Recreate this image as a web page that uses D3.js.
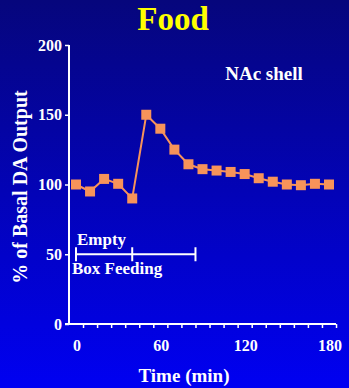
<!DOCTYPE html>
<html>
<head>
<meta charset="utf-8">
<script src="https://d3js.org/d3.v7.min.js"></script>
<style>
    html, body { margin: 0; padding: 0; background: #0000c0; }
    svg { display: block; }
    text { font-family: "Liberation Serif", "Times New Roman", serif; font-weight: bold; }
</style>
</head>
<body>
<svg width="349" height="388"></svg>
<script>
    const width = 349, height = 388;

    // dopamine output, % of basal, every 10 min
    const times = [0, 10, 20, 30, 40, 50, 60, 70, 80, 90, 100, 110, 120, 130, 140, 150, 160, 170, 180];
    const values = [100, 95, 104, 100.5, 90, 150, 140, 125, 114.5, 111, 110, 109, 107.5, 104.5, 102, 100, 99.5, 100.5, 100];
    const yTicks = [0, 50, 100, 150, 200];
    const xLabels = [0, 60, 120, 180];
    const xMinor = [5, 15, 25, 35, 45, 55, 65, 75, 85, 95, 105, 115, 125, 135, 145, 155, 165, 175, 185];
    // period bar: Empty Box, then Feeding
    const periods = [0, 40, 85];

    const svg = d3.select("svg");

    const defs = svg.append("defs");
    const grad = defs.append("linearGradient")
        .attr("id", "bg")
        .attr("x1", 0).attr("y1", 0).attr("x2", 0).attr("y2", 1);
    grad.append("stop").attr("offset", "0%").attr("stop-color", "#06067c");
    grad.append("stop").attr("offset", "100%").attr("stop-color", "#0000f2");

    svg.append("rect")
        .attr("width", width)
        .attr("height", height)
        .attr("fill", "url(#bg)");

    const x = d3.scaleLinear().domain([0, 180]).range([76, 329]);
    const y = d3.scaleLinear().domain([0, 200]).range([324, 45]);
    const axisX = 69;

    // title
    svg.append("text")
        .attr("x", 173)
        .attr("y", 30)
        .attr("text-anchor", "middle")
        .attr("font-size", 33)
        .attr("fill", "#ffff00")
        .text("Food");

    svg.append("text")
        .attr("x", 264)
        .attr("y", 80)
        .attr("text-anchor", "middle")
        .attr("font-size", 19)
        .attr("fill", "white")
        .text("NAc shell");

    // y axis
    const yAxis = svg.append("g")
        .attr("transform", `translate(${axisX},0)`)
        .call(d3.axisLeft(y).tickValues(yTicks).tickSize(4).tickPadding(3));
    yAxis.select(".domain").remove();
    yAxis.selectAll(".tick line").attr("stroke", "white").attr("stroke-width", 1.5);
    yAxis.selectAll(".tick text")
        .attr("fill", "white")
        .attr("font-size", 16)
        .attr("font-family", null);

    svg.append("line")
        .attr("x1", axisX).attr("x2", axisX)
        .attr("y1", y(200)).attr("y2", y(0))
        .attr("stroke", "white").attr("stroke-width", 2);

    // x axis
    const xAxis = svg.append("g")
        .attr("transform", `translate(0,${y(0)})`)
        .call(d3.axisBottom(x).tickValues(xMinor).tickSize(4).tickFormat(""));
    xAxis.select(".domain").remove();
    xAxis.selectAll(".tick line").attr("stroke", "white").attr("stroke-width", 1.5);

    svg.append("line")
        .attr("x1", axisX - 4).attr("x2", x(185))
        .attr("y1", y(0)).attr("y2", y(0))
        .attr("stroke", "white").attr("stroke-width", 2);

    svg.selectAll(".xlabel")
        .data(xLabels)
        .join("text")
        .attr("class", "xlabel")
        .attr("x", d => x(d) + 1)
        .attr("y", 351)
        .attr("text-anchor", "middle")
        .attr("font-size", 16)
        .attr("fill", "white")
        .text(d => d);

    svg.append("text")
        .attr("x", 184)
        .attr("y", 382)
        .attr("text-anchor", "middle")
        .attr("font-size", 19)
        .attr("fill", "white")
        .text("Time (min)");

    svg.append("text")
        .attr("transform", `translate(27,${187}) rotate(-90)`)
        .attr("text-anchor", "middle")
        .attr("font-size", 20)
        .attr("fill", "white")
        .text("% of Basal DA Output");

    // period bar
    const barY = y(50);
    svg.append("line")
        .attr("x1", x(periods[0])).attr("x2", x(periods[periods.length - 1]))
        .attr("y1", barY).attr("y2", barY)
        .attr("stroke", "white").attr("stroke-width", 2);
    svg.selectAll(".cap")
        .data(periods)
        .join("line")
        .attr("class", "cap")
        .attr("x1", d => x(d)).attr("x2", d => x(d))
        .attr("y1", barY - 7).attr("y2", barY + 7)
        .attr("stroke", "white").attr("stroke-width", 2);

    svg.append("text")
        .attr("x", x(periods[0]) + 1)
        .attr("y", barY - 9)
        .attr("font-size", 17)
        .attr("fill", "white")
        .text("Empty");
    svg.append("text")
        .attr("x", x(periods[0]) - 4)
        .attr("y", barY + 20)
        .attr("font-size", 17)
        .attr("fill", "white")
        .text("Box Feeding");

    // data line
    const pts = times.map((t, i) => [t, values[i]]);
    svg.append("path")
        .datum(pts)
        .attr("fill", "none")
        .attr("stroke", "#f7935a")
        .attr("stroke-width", 2)
        .attr("d", d3.line().x(d => x(d[0])).y(d => y(d[1])));

    const s = 10;
    svg.selectAll(".pt")
        .data(pts)
        .join("rect")
        .attr("class", "pt")
        .attr("x", d => x(d[0]) - s / 2)
        .attr("y", d => y(d[1]) - s / 2)
        .attr("width", s)
        .attr("height", s)
        .attr("fill", "#f7935a");
</script>
</body>
</html>
